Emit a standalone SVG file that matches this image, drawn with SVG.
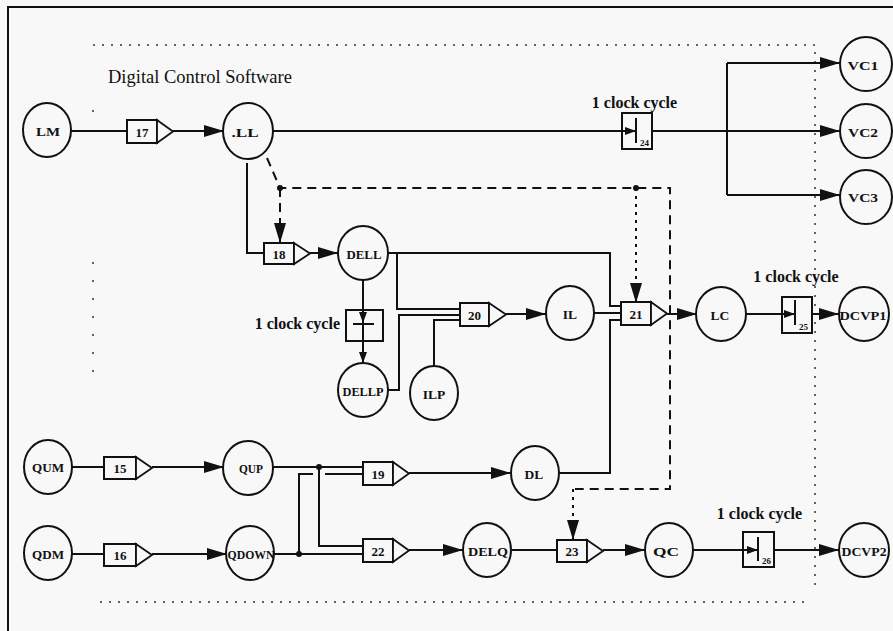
<svg xmlns="http://www.w3.org/2000/svg" width="893" height="631" viewBox="0 0 893 631">
<style>
.ln{stroke:#111;stroke-width:2;fill:none}
.ds{stroke-dasharray:9 6}
.dt{stroke-dasharray:3 5}
.bd{stroke:#333;stroke-width:1.5;fill:none;stroke-dasharray:2 7}
.nd ellipse{fill:#f8f8f8;stroke:#111;stroke-width:2}
.bx rect{fill:#f8f8f8;stroke:#111;stroke-width:2}
.bx path.tr{fill:#f8f8f8;stroke:#111;stroke-width:1.8}
.bar{stroke:#111;stroke-width:2;fill:none}
.lbl{font-family:"Liberation Serif","Times New Roman",serif;font-weight:bold;font-size:13.5px;text-anchor:middle;dominant-baseline:central;fill:#111}
.num{font-family:"Liberation Serif","Times New Roman",serif;font-weight:bold;font-size:13px;text-anchor:middle;dominant-baseline:central;fill:#111}
.sub{font-family:"Liberation Serif","Times New Roman",serif;font-weight:bold;font-size:9px;fill:#111}
.cc{font-family:"Liberation Serif","Times New Roman",serif;font-weight:bold;font-size:16px;fill:#111}
.ttl{font-family:"Liberation Serif","Times New Roman",serif;font-size:18.5px;fill:#111}
.dot{fill:#111}
</style>
<defs>
<marker id="ah" markerUnits="userSpaceOnUse" markerWidth="22" markerHeight="14" refX="20" refY="6" orient="auto"><path d="M0,0 L20,6 L0,12 z" fill="#111"/></marker>
<marker id="as" markerUnits="userSpaceOnUse" markerWidth="12" markerHeight="10" refX="11" refY="4" orient="auto"><path d="M0,0 L11,4 L0,8 z" fill="#111"/></marker>
</defs>
<rect x="0" y="0" width="893" height="631" fill="#f8f8f8"/>
<g id="frame">
<path d="M8,631 V7 H893" stroke="#111" stroke-width="2" fill="none"/>
</g>
<g id="boundary">
<path class="bd" d="M93,45 H815 V585"/>
<path class="bd" d="M100,602 H808"/>
<path class="bd" d="M93,262 V376" style="stroke-dasharray:2 16"/>
<circle cx="93" cy="111" r="1" fill="#333"/>
<text class="ttl" x="108" y="83">Digital Control Software</text>
</g>
<g id="connectors">
<path class="ln" d="M71,131 H127"/>
<path class="ln" d="M173,131 H224" marker-end="url(#ah)"/>
<path class="ln" d="M273,131 H622"/>
<path class="ln" d="M652,131 H840" marker-end="url(#ah)"/>
<path class="ln" d="M727,63 V195"/>
<path class="ln" d="M727,63 H840" marker-end="url(#ah)"/>
<path class="ln" d="M727,195 H840" marker-end="url(#ah)"/>
<path class="ln" d="M247,163 V253 H264"/>
<path class="ln ds" d="M267,158 L280,188 H670 V489 H575"/>
<path class="ln dt" d="M573,489 V540" marker-end="url(#ah)"/>
<path class="ln ds" d="M280,188 V243" marker-end="url(#ah)"/>
<path class="ln dt" d="M636,188 V303" marker-end="url(#ah)"/>
<circle class="dot" cx="280" cy="188" r="3"/>
<circle class="dot" cx="636" cy="188" r="3"/>
<path class="ln" d="M310,253 H338" marker-end="url(#ah)"/>
<path class="ln" d="M388,253 H610 V306 H621"/>
<path class="ln" d="M397,253 V309 H460"/>
<path class="ln" d="M388,390 H399 V315 H460"/>
<path class="ln" d="M434,366 V320 H460"/>
<path class="ln" d="M506,314 H546" marker-end="url(#ah)"/>
<path class="ln" d="M594,313 H621"/>
<path class="ln" d="M559,473 H610 V320 H621"/>
<path class="ln" d="M667,314 H697" marker-end="url(#ah)"/>
<path class="ln" d="M746,314 H782"/>
<path class="ln" d="M812,314 H839" marker-end="url(#ah)"/>
<path class="ln" d="M363,280 V323" marker-end="url(#as)"/>
<path class="ln" d="M363,325 V363" marker-end="url(#as)"/>
<path class="ln" d="M72,467 H104"/>
<path class="ln" d="M152,467 H224" marker-end="url(#ah)"/>
<path class="ln" d="M72,554 H104"/>
<path class="ln" d="M152,554 H227" marker-end="url(#ah)"/>
<path class="ln" d="M273,467 H363"/>
<path class="ln" d="M319,467 V546 H363"/>
<circle class="dot" cx="319" cy="467" r="3"/>
<path class="ln" d="M274,554 H363"/>
<path class="ln" d="M299,554 V474 H313"/>
<path class="ln" d="M325,474 H363"/>
<circle class="dot" cx="299" cy="554" r="3"/>
<path class="ln" d="M409,473 H511" marker-end="url(#ah)"/>
<path class="ln" d="M409,550 H463" marker-end="url(#ah)"/>
<path class="ln" d="M512,550 H557"/>
<path class="ln" d="M603,550 H645" marker-end="url(#ah)"/>
<path class="ln" d="M693,550 H743"/>
<path class="ln" d="M774,550 H839" marker-end="url(#ah)"/>
</g>
<g id="LM" class="nd"><ellipse cx="47" cy="130" rx="24" ry="27"/><text class="lbl" x="48" y="131" textLength="24" lengthAdjust="spacingAndGlyphs">LM</text></g>
<g id="LL" class="nd"><ellipse cx="248" cy="131" rx="25" ry="28"/><text class="lbl" x="245" y="132" textLength="27" lengthAdjust="spacingAndGlyphs">.LL</text></g>
<g id="VC1" class="nd"><ellipse cx="866" cy="64" rx="26" ry="27"/><text class="lbl" x="863" y="65" textLength="31" lengthAdjust="spacingAndGlyphs">VC1</text></g>
<g id="VC2" class="nd"><ellipse cx="866" cy="131" rx="26" ry="27"/><text class="lbl" x="863" y="132" textLength="30" lengthAdjust="spacingAndGlyphs">VC2</text></g>
<g id="VC3" class="nd"><ellipse cx="866" cy="197" rx="26" ry="27"/><text class="lbl" x="863" y="197" textLength="30" lengthAdjust="spacingAndGlyphs">VC3</text></g>
<g id="DELL" class="nd"><ellipse cx="363" cy="253" rx="25" ry="27"/><text class="lbl" x="364" y="254" textLength="35" lengthAdjust="spacingAndGlyphs">DELL</text></g>
<g id="DELLP" class="nd"><ellipse cx="363" cy="390" rx="25" ry="27"/><text class="lbl" x="363" y="391" textLength="41" lengthAdjust="spacingAndGlyphs">DELLP</text></g>
<g id="ILP" class="nd"><ellipse cx="434" cy="393" rx="24" ry="27"/><text class="lbl" x="434" y="394">ILP</text></g>
<g id="IL" class="nd"><ellipse cx="570" cy="313" rx="24" ry="27"/><text class="lbl" x="570" y="314">IL</text></g>
<g id="LC" class="nd"><ellipse cx="721" cy="314" rx="25" ry="27"/><text class="lbl" x="720" y="315">LC</text></g>
<g id="DCVP1" class="nd"><ellipse cx="864" cy="314" rx="25" ry="27"/><text class="lbl" x="863" y="315" textLength="47" lengthAdjust="spacingAndGlyphs">DCVP1</text></g>
<g id="QUM" class="nd"><ellipse cx="48" cy="467" rx="24" ry="27"/><text class="lbl" x="48" y="467" textLength="32" lengthAdjust="spacingAndGlyphs">QUM</text></g>
<g id="QUP" class="nd"><ellipse cx="248" cy="468" rx="25" ry="27"/><text class="lbl" x="251" y="468" textLength="24" lengthAdjust="spacingAndGlyphs">QUP</text></g>
<g id="QDM" class="nd"><ellipse cx="48" cy="553" rx="24" ry="27"/><text class="lbl" x="48" y="554" textLength="32" lengthAdjust="spacingAndGlyphs">QDM</text></g>
<g id="QDOWN" class="nd"><ellipse cx="250" cy="553" rx="24" ry="27"/><text class="lbl" x="251" y="554" textLength="47" lengthAdjust="spacingAndGlyphs">QDOWN</text></g>
<g id="DL" class="nd"><ellipse cx="535" cy="473" rx="24" ry="27"/><text class="lbl" x="534" y="474">DL</text></g>
<g id="DELQ" class="nd"><ellipse cx="487" cy="550" rx="24" ry="27"/><text class="lbl" x="488" y="551" textLength="40" lengthAdjust="spacingAndGlyphs">DELQ</text></g>
<g id="QC" class="nd"><ellipse cx="669" cy="550" rx="24" ry="27"/><text class="lbl" x="666" y="551" textLength="26" lengthAdjust="spacingAndGlyphs">QC</text></g>
<g id="DCVP2" class="nd"><ellipse cx="864" cy="550" rx="25" ry="27"/><text class="lbl" x="864" y="551" textLength="45" lengthAdjust="spacingAndGlyphs">DCVP2</text></g>
<g id="b17" class="bx"><rect x="127" y="120" width="30" height="23"/><path class="tr" d="M157,120 L173,131.5 L157,143 z"/><text class="num" x="142" y="132">17</text></g>
<g id="b18" class="bx"><rect x="264" y="243" width="30" height="21"/><path class="tr" d="M294,243 L310,253.5 L294,264 z"/><text class="num" x="279" y="254">18</text></g>
<g id="b20" class="bx"><rect x="460" y="303" width="29" height="23"/><path class="tr" d="M489,303 L506,314.5 L489,326 z"/><text class="num" x="474.5" y="315">20</text></g>
<g id="b21" class="bx"><rect x="621" y="302" width="30" height="23"/><path class="tr" d="M651,302 L667,313.5 L651,325 z"/><text class="num" x="636" y="314">21</text></g>
<g id="b15" class="bx"><rect x="104" y="457" width="32" height="22"/><path class="tr" d="M136,457 L152,468 L136,479 z"/><text class="num" x="120" y="468">15</text></g>
<g id="b16" class="bx"><rect x="104" y="544" width="32" height="22"/><path class="tr" d="M136,544 L152,555 L136,566 z"/><text class="num" x="120" y="555">16</text></g>
<g id="b19" class="bx"><rect x="363" y="462" width="30" height="23"/><path class="tr" d="M393,462 L409,473.5 L393,485 z"/><text class="num" x="378" y="474">19</text></g>
<g id="b22" class="bx"><rect x="363" y="539" width="30" height="23"/><path class="tr" d="M393,539 L409,550.5 L393,562 z"/><text class="num" x="378" y="551">22</text></g>
<g id="b23" class="bx"><rect x="557" y="540" width="30" height="22"/><path class="tr" d="M587,540 L603,551 L587,562 z"/><text class="num" x="572" y="551">23</text></g>
<g id="c24" class="bx"><rect x="622" y="113" width="30" height="36"/><path class="bar" d="M622,131 H636" marker-end="url(#as)"/><path class="bar" d="M636,118 V143"/><text class="sub" x="640" y="146">24</text><text class="cc" x="634.5" y="108" text-anchor="middle">1 clock cycle</text></g>
<g id="c25" class="bx"><rect x="782" y="297" width="30" height="36"/><path class="bar" d="M782,314 H795" marker-end="url(#as)"/><path class="bar" d="M795,300 V325"/><text class="sub" x="799" y="330">25</text><text class="cc" x="796" y="282" text-anchor="middle">1 clock cycle</text></g>
<g id="c26" class="bx"><rect x="743" y="532" width="31" height="35"/><path class="bar" d="M743,550 H758" marker-end="url(#as)"/><path class="bar" d="M758,537 V561"/><text class="sub" x="762" y="564">26</text><text class="cc" x="759.5" y="519" text-anchor="middle">1 clock cycle</text></g>
<g id="cDELL" class="bx"><rect x="346" y="310" width="37" height="31" style="fill:none"/><path class="bar" d="M353,324 H374"/><text class="cc" x="340" y="329" text-anchor="end">1 clock cycle</text></g>
</svg>
